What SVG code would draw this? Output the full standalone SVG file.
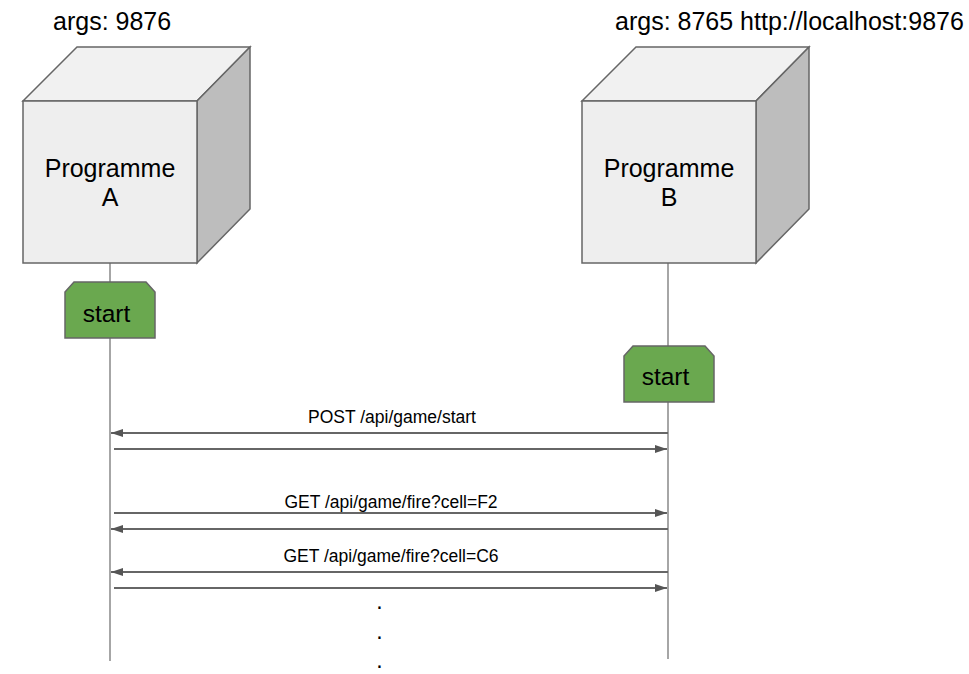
<svg xmlns="http://www.w3.org/2000/svg" width="969" height="674" viewBox="0 0 969 674">
<style>
text{font-family:"Liberation Sans",Arial,sans-serif;fill:#000}
.big{font-size:25px}
.lbl{font-size:17.5px;text-anchor:middle}
.dot{font-size:23px;text-anchor:middle}
.mid{text-anchor:middle}
.front{fill:#eeeeee;stroke:#666;stroke-width:1.5}
.top{fill:#f1f1f1;stroke:#666;stroke-width:1.5}
.side{fill:#bdbdbd;stroke:#666;stroke-width:1.5}
.act{fill:#6aa84f;stroke:#666;stroke-width:1.5}
.life{stroke:#888;stroke-width:1.5;fill:none}
.msg{stroke:#666;stroke-width:1.8;fill:none}
</style>
<defs>
<marker id="ah" viewBox="0 0 12 8" refX="12" refY="4" markerWidth="12" markerHeight="8" markerUnits="userSpaceOnUse" orient="auto">
<path d="M0,0 L12,4 L0,8 Z" fill="#555"/>
</marker>
</defs>
<g id="lifelines">
<line class="life" x1="110" y1="263" x2="110" y2="661"/>
<line class="life" x1="668" y1="263" x2="668" y2="659"/>
</g>
<g id="progA">
<text class="big" x="53" y="30">args: 9876</text>
<polygon class="top" points="23,101 77,47 250,47 197,101"/>
<polygon class="side" points="197,101 250,47 250,209 197,263"/>
<rect class="front" x="23" y="101" width="174" height="162"/>
<text class="big mid" x="110" y="177">Programme</text>
<text class="big mid" x="110" y="206">A</text>
</g>
<g id="progB">
<text class="big" x="615" y="30">args: 8765 http://localhost:9876</text>
<polygon class="top" points="582,101 636,47 809,47 756,101"/>
<polygon class="side" points="756,101 809,47 809,209 756,263"/>
<rect class="front" x="582" y="101" width="174" height="162"/>
<text class="big mid" x="669" y="177">Programme</text>
<text class="big mid" x="669" y="206">B</text>
</g>
<g id="startA">
<polygon class="act" points="65,292 74,282 146,282 155,292 155,338 65,338"/>
<text class="mid" style="font-size:24.5px" x="106.5" y="322">start</text>
</g>
<g id="startB">
<polygon class="act" points="624,356 633,346 705,346 714,356 714,402 624,402"/>
<text class="mid" style="font-size:24.5px" x="665.5" y="385">start</text>
</g>
<g id="connectors">
<line class="msg" x1="668" y1="433" x2="111" y2="433" marker-end="url(#ah)"/>
<line class="msg" x1="114" y1="449" x2="667" y2="449" marker-end="url(#ah)"/>
<line class="msg" x1="114" y1="513" x2="667" y2="513" marker-end="url(#ah)"/>
<line class="msg" x1="668" y1="529" x2="111" y2="529" marker-end="url(#ah)"/>
<line class="msg" x1="668" y1="572" x2="111" y2="572" marker-end="url(#ah)"/>
<line class="msg" x1="114" y1="588" x2="667" y2="588" marker-end="url(#ah)"/>
</g>
<g id="labels">
<text class="lbl" x="392" y="423">POST /api/game/start</text>
<text class="lbl" x="391" y="508">GET /api/game/fire?cell=F2</text>
<text class="lbl" x="391" y="562">GET /api/game/fire?cell=C6</text>
</g>
<g id="dots">
<text class="dot" x="379.5" y="609">.</text>
<text class="dot" x="379.5" y="639">.</text>
<text class="dot" x="379.5" y="668">.</text>
</g>
</svg>
